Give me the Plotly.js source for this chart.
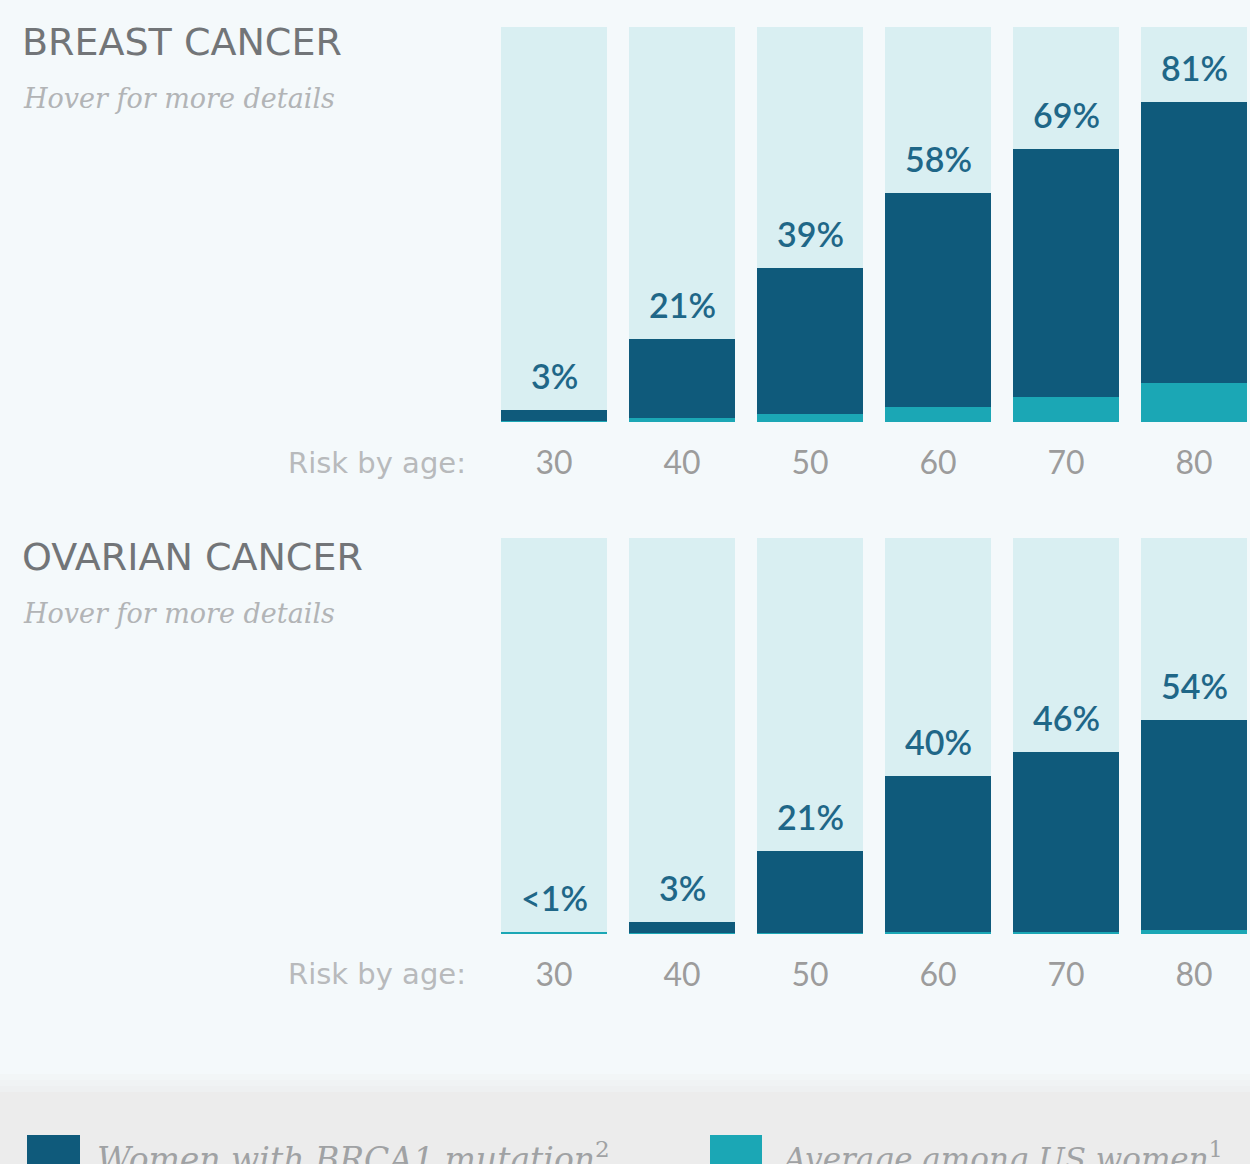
<!DOCTYPE html>
<html>
<head>
<meta charset="utf-8">
<script src="https://cdn.plot.ly/plotly-3.0.1.min.js"></script>
<style>
  html, body { margin: 0; padding: 0; background: #f4f9fb; }
  #chart { width: 1250px; height: 1164px; }
</style>
</head>
<body>
<div id="chart"></div>
<script>
// Lifetime cancer risk by age: BRCA1 carriers vs. the US average
const ages = ['30', '40', '50', '60', '70', '80'];
const breastBrca1 = [3, 21, 39, 58, 69, 81];
const breastUsAvg = [0.1, 0.9, 2.1, 3.8, 6.4, 10];
const ovarianBrca1 = [0.5, 3, 21, 40, 46, 54];
const ovarianUsAvg = [0.4, 0.1, 0.2, 0.3, 0.3, 0.9];
const breastLabels = ['3%', '21%', '39%', '58%', '69%', '81%'];
const ovarianLabels = ['&lt;1%', '3%', '21%', '40%', '46%', '54%'];
const fullScale = [100, 100, 100, 100, 100, 100];

const W = 1250, H = 1164;
const px = v => v / W;
const py = v => 1 - v / H;

const DARK = '#0f5a7b';
const TEAL = '#1ba7b5';
const PALE = '#d9eff2';
const LABEL = '#1f6788';
const SANS = 'Lato, "Open Sans", sans-serif';
const WIDE = '"DejaVu Sans", Lato, sans-serif';
const SERIF = '"DejaVu Serif", "Liberation Serif", serif';

const barWidth = 0.835;

function panel(xa, ya, brca, avg) {
  return [
    { type: 'bar', x: ages, y: fullScale, xaxis: xa, yaxis: ya, width: barWidth,
      marker: { color: PALE }, hoverinfo: 'skip', showlegend: false },
    { type: 'bar', x: ages, y: brca, xaxis: xa, yaxis: ya, width: barWidth,
      marker: { color: DARK }, name: 'Women with BRCA1 mutation', showlegend: false },
    { type: 'bar', x: ages, y: avg, xaxis: xa, yaxis: ya, width: barWidth,
      marker: { color: TEAL }, name: 'Average among US women', showlegend: false }
  ];
}

const data = [
  ...panel('x', 'y', breastBrca1, breastUsAvg),
  ...panel('x2', 'y2', ovarianBrca1, ovarianUsAvg)
];

// value labels sit above each BRCA1 bar (x given as the category index)
function valueLabels(xref, yref, values, labels) {
  return values.map((v, i) => ({
    xref: xref, yref: yref, x: i, y: v, text: labels[i],
    showarrow: false, yanchor: 'bottom', yshift: 12,
    font: { family: SANS, size: 34, color: LABEL, weight: 600 }
  }));
}

function xAxis() {
  return {
    type: 'category', domain: [px(490), 1], range: [-0.5, 5.4375],
    showgrid: false, zeroline: false, showline: false,
    ticks: 'outside', ticklen: 13, tickcolor: 'rgba(0,0,0,0)',
    tickfont: { family: SANS, size: 32, color: '#9c9c9c' },
    fixedrange: true
  };
}
function yAxis(top, bottom) {
  return {
    domain: [py(bottom), py(top)], range: [0, 100],
    showgrid: false, zeroline: false, showticklabels: false, showline: false,
    fixedrange: true
  };
}

const headings = [
  { text: 'BREAST CANCER', y: 42 },
  { text: 'OVARIAN CANCER', y: 557 }
];

const annotations = [
  ...valueLabels('x', 'y', breastBrca1, breastLabels),
  ...valueLabels('x2', 'y2', ovarianBrca1, ovarianLabels)
];

headings.forEach(h => {
  annotations.push({
    xref: 'paper', yref: 'paper', x: px(20), y: py(h.y), xanchor: 'left', yanchor: 'middle',
    text: h.text, showarrow: false,
    font: { family: WIDE, size: 38, color: '#727578' }
  });
  annotations.push({
    xref: 'paper', yref: 'paper', x: px(21), y: py(h.y + 56), xanchor: 'left', yanchor: 'middle',
    text: '<i>Hover for more details</i>', showarrow: false,
    font: { family: SERIF, size: 27, color: '#b2b4b6' }
  });
});

[463, 974].forEach(y => {
  annotations.push({
    xref: 'paper', yref: 'paper', x: px(468), y: py(y), xanchor: 'right', yanchor: 'middle',
    text: 'Risk by age:', showarrow: false,
    font: { family: WIDE, size: 29, color: '#b8babc' }
  });
});

// Legend row
annotations.push({
  xref: 'paper', yref: 'paper', x: px(95), y: py(1157), xanchor: 'left', yanchor: 'middle',
  text: '<i>Women with BRCA1 mutation</i><sup>2</sup>', showarrow: false,
  font: { family: SERIF, size: 33, color: '#a0a2a4' }
});
annotations.push({
  xref: 'paper', yref: 'paper', x: px(779), y: py(1157), xanchor: 'left', yanchor: 'middle',
  text: '<i>Average among US women</i><sup>1</sup>', showarrow: false,
  font: { family: SERIF, size: 31, color: '#a0a2a4' }
});

const shapes = [];
// grey legend band with a soft top edge
const fade = [['#f2f6f7', 1074], ['#f0f3f4', 1080], ['#eef0f1', 1086]];
fade.forEach(([c, y]) => shapes.push({
  type: 'rect', xref: 'paper', yref: 'paper', layer: 'below',
  x0: 0, x1: 1, y0: 0, y1: py(y), fillcolor: c, line: { width: 0 }
}));
shapes.push({
  type: 'rect', xref: 'paper', yref: 'paper', layer: 'below',
  x0: 0, x1: 1, y0: 0, y1: py(1092), fillcolor: '#ececec', line: { width: 0 }
});
shapes.push({
  type: 'rect', xref: 'paper', yref: 'paper',
  x0: px(27), x1: px(80), y0: 0, y1: py(1135), fillcolor: DARK, line: { width: 0 }
});
shapes.push({
  type: 'rect', xref: 'paper', yref: 'paper',
  x0: px(710), x1: px(762), y0: 0, y1: py(1135), fillcolor: TEAL, line: { width: 0 }
});

const layout = {
  width: W, height: H,
  margin: { l: 0, r: 0, t: 0, b: 0 },
  paper_bgcolor: '#f4f9fb', plot_bgcolor: 'rgba(0,0,0,0)',
  barmode: 'overlay', bargap: 0,
  showlegend: false,
  xaxis: Object.assign(xAxis(), { anchor: 'y' }),
  yaxis: Object.assign(yAxis(27, 422), { anchor: 'x' }),
  xaxis2: Object.assign(xAxis(), { anchor: 'y2' }),
  yaxis2: Object.assign(yAxis(538, 934), { anchor: 'x2' }),
  annotations: annotations,
  shapes: shapes
};

Plotly.newPlot('chart', data, layout, { displayModeBar: false, responsive: false });
</script>
</body>
</html>
